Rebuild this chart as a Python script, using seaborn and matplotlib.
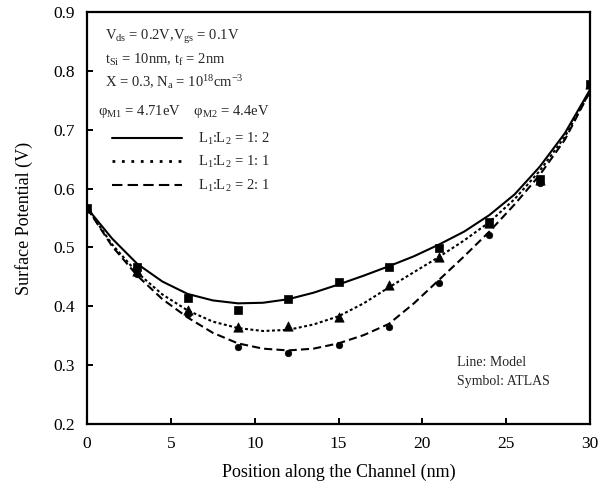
import numpy as np
import pandas as pd
import matplotlib
matplotlib.use("Agg")
import matplotlib.pyplot as plt
from matplotlib.lines import Line2D
import seaborn as sns

# ---- data ----
x_model = [0, 1.5, 3, 4.5, 6, 7.5, 9, 10.5, 12, 13.5, 15, 16.5, 18, 19.5, 21,
           22.5, 24, 25.5, 27, 28.5, 30]
model_12 = [0.567, 0.515, 0.472, 0.442, 0.421, 0.410, 0.405, 0.406, 0.412, 0.423,
            0.437, 0.452, 0.468, 0.485, 0.505, 0.527, 0.555, 0.590, 0.637, 0.694, 0.768]
model_11 = [0.567, 0.505, 0.457, 0.420, 0.393, 0.374, 0.363, 0.358, 0.360, 0.369,
            0.383, 0.405, 0.432, 0.458, 0.484, 0.512, 0.543, 0.582, 0.630, 0.688, 0.765]
model_21 = [0.567, 0.502, 0.452, 0.412, 0.381, 0.355, 0.337, 0.328, 0.325, 0.328,
            0.337, 0.351, 0.370, 0.405, 0.445, 0.485, 0.527, 0.573, 0.623, 0.683, 0.765]

x_atlas = [0, 3, 6, 9, 12, 15, 18, 21, 24, 27, 30]
atlas_12 = [0.567, 0.467, 0.414, 0.394, 0.412, 0.442, 0.466, 0.499, 0.544, 0.617, 0.777]
atlas_11 = [0.567, 0.460, 0.394, 0.364, 0.366, 0.382, 0.436, 0.483, 0.541, 0.615, 0.777]
atlas_21 = [0.565, 0.455, 0.387, 0.331, 0.321, 0.335, 0.365, 0.439, 0.521, 0.609, 0.777]

x_ticks = [0, 5, 10, 15, 20, 25, 30]
y_ticks = [0.2, 0.3, 0.4, 0.5, 0.6, 0.7, 0.8, 0.9]

legend_labels = ["L$_1$:L$_2$ = 1: 2", "L$_1$:L$_2$ = 1: 1", "L$_1$:L$_2$ = 2: 1"]

# ---- style ----
sns.set_theme(style="white")
SERIF = ["Liberation Serif", "DejaVu Serif"]
plt.rcParams["font.family"] = SERIF
plt.rcParams["mathtext.fontset"] = "custom"
plt.rcParams["mathtext.rm"] = "Liberation Serif"
plt.rcParams["mathtext.it"] = "Liberation Serif:italic"
plt.rcParams["mathtext.bf"] = "Liberation Serif:bold"

W, H = 613, 491
fig = plt.figure(figsize=(W / 100, H / 100), dpi=100)
fig.patch.set_facecolor("white")
ax = fig.add_axes([87 / W, 1 - 424 / H, (590 - 87) / W, (424 - 12) / H])
ax.set_facecolor("white")

solid = "-"
short_dash = (0, (1.4, 1.2))
long_dash = (0, (3.9, 2.0))

df_model = pd.DataFrame({"x": x_model, "a": model_12, "b": model_11, "c": model_21})
sns.lineplot(data=df_model, x="x", y="a", ax=ax, color="black", lw=1.5, linestyle=solid)
sns.lineplot(data=df_model, x="x", y="b", ax=ax, color="black", lw=1.5, linestyle=short_dash)
sns.lineplot(data=df_model, x="x", y="c", ax=ax, color="black", lw=1.5, linestyle=long_dash)

df_atlas = pd.DataFrame({"x": x_atlas, "a": atlas_12, "b": atlas_11, "c": atlas_21})
sns.scatterplot(data=df_atlas, x="x", y="a", ax=ax, color="black", marker="s", s=32,
                edgecolor="black", linewidth=0.5, zorder=5)
sns.scatterplot(data=df_atlas, x="x", y="b", ax=ax, color="black", marker="^", s=45,
                edgecolor="black", linewidth=0.5, zorder=5)
sns.scatterplot(data=df_atlas, x="x", y="c", ax=ax, color="black", marker="o", s=22,
                edgecolor="black", linewidth=0.5, zorder=5)

ax.set_xlim(0, 30)
ax.set_ylim(0.2, 0.9)
ax.set_xticks(x_ticks)
ax.set_yticks(y_ticks)
ax.set_xticklabels([str(t) for t in x_ticks], fontfamily=SERIF)
ax.set_yticklabels([f"{t:.1f}" for t in y_ticks], fontfamily=SERIF)
ax.tick_params(axis="both", direction="in", length=4, width=1.4, labelsize=12.5,
               colors="black", pad=9)
ax.tick_params(axis="x", top=False, bottom=True)
ax.tick_params(axis="y", left=True, right=False)
for lbl in ax.get_xticklabels() + ax.get_yticklabels():
    lbl.set_fontfamily(SERIF)
for sp in ax.spines.values():
    sp.set_visible(True)
    sp.set_color("black")
    sp.set_linewidth(1.6)

ax.set_xlabel("Position along the Channel (nm)", fontsize=13, color="black", labelpad=8)
ax.set_ylabel("Surface Potential (V)", fontsize=13, color="black", labelpad=14)

def fx(px):
    return px / W

def fy(py):
    return 1 - py / H

ts = 10.5
fig.text(fx(105), fy(37), "V$_{\\rm ds}$ = 0.2V,V$_{\\rm gs}$ = 0.1V", fontsize=ts,
         va="center", ha="left")
fig.text(fx(105), fy(60), "t$_{\\rm Si}$ = 10nm, t$_{\\rm f}$ = 2nm", fontsize=ts,
         va="center", ha="left")
fig.text(fx(105), fy(82), "X = 0.3, N$_{\\rm a}$ = 10$^{18}$cm$^{-3}$", fontsize=ts,
         va="center", ha="left")
fig.text(fx(98), fy(111), "φ$_{\\rm M1}$ = 4.71eV    φ$_{\\rm M2}$ = 4.4eV", fontsize=ts,
         va="center", ha="left")

handles = [
    Line2D([], [], color="black", lw=1.5, linestyle=solid),
    Line2D([], [], color="black", lw=2.0, linestyle=(0, (1.0, 2.4))),
    Line2D([], [], color="black", lw=1.5, linestyle=(0, (5.0, 2.5))),
]
ax.legend(handles, legend_labels, loc="upper left",
          bbox_to_anchor=(fx(112), fy(131)), bbox_transform=fig.transFigure,
          frameon=False, fontsize=ts, handlelength=4.8, handletextpad=1.1,
          labelspacing=0.5, borderpad=0, borderaxespad=0)

fig.text(fx(457), fy(362), "Line: Model", fontsize=10, va="center", ha="left")
fig.text(fx(457), fy(381), "Symbol: ATLAS", fontsize=10, va="center", ha="left")

fig.savefig("out.png", dpi=100, facecolor="white")
